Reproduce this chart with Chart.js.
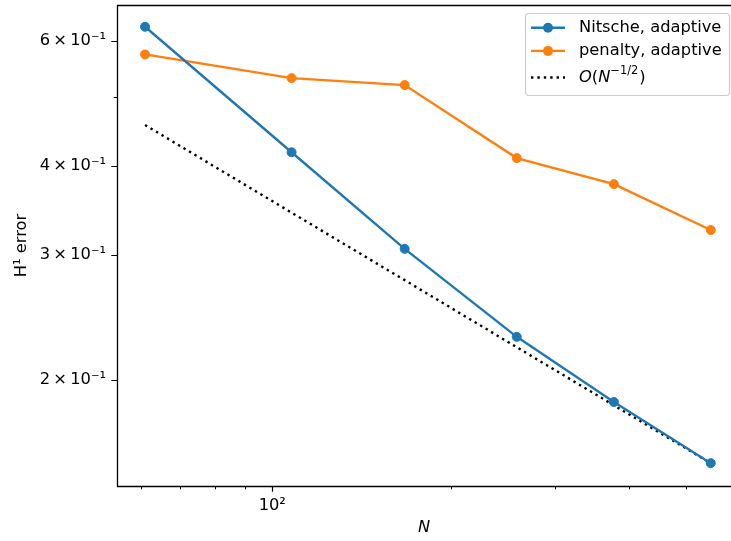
<!DOCTYPE html>
<html>
<head>
<meta charset="utf-8">
<script src="https://cdn.jsdelivr.net/npm/chart.js@4/dist/chart.umd.min.js"></script>
<style>
  html, body { margin: 0; padding: 0; background: #fff; overflow: hidden; }
</style>
</head>
<body>
<canvas id="graph" width="731" height="541"></canvas>
<script>
// values
const nValues = [61.0, 107.8, 167.3, 258.6, 377.2, 549.6];
const nitscheError = [0.6286, 0.4184, 0.3059, 0.2300, 0.1862, 0.1527];
const penaltyError = [0.5746, 0.5322, 0.5203, 0.4106, 0.3774, 0.3252];
const rateLine = [0.4571, 0.3440, 0.2764, 0.2224, 0.1842, 0.1527];

const seriesLabels = ["Nitsche, adaptive", "penalty, adaptive", "O(N^-1/2)"];

const xMajorTicks = [100];
const xMinorTicks = [60, 70, 80, 90, 200, 300, 400, 500];
const xTickLabels = ["10²"];
const yMajorTicks = [0.2, 0.3, 0.4, 0.6];
const yMinorTicks = [0.5];
const yTickLabels = ["2\u2009×\u200910⁻¹", "3\u2009×\u200910⁻¹", "4\u2009×\u200910⁻¹", "6\u2009×\u200910⁻¹"];

const FONT = "'DejaVu Sans', sans-serif";
const blue = "#1f77b4";
const orange = "#ff7f0e";

function toPoints(ys) {
    return nValues.map((x, i) => ({x: x, y: ys[i]}));
}

function noPad(s) {
    s.paddingTop = 0;
    s.paddingBottom = 0;
    s.paddingLeft = 0;
    s.paddingRight = 0;
}

// matplotlib style spines and ticks
const frameTicks = {
    id: "frameTicks",
    afterDraw(chart) {
        const {ctx, chartArea: a, scales} = chart;
        ctx.save();
        ctx.strokeStyle = "#000";
        ctx.lineWidth = 1.3;
        ctx.beginPath();
        ctx.moveTo(a.left + 0.5, a.bottom + 0.5);
        ctx.lineTo(a.left + 0.5, a.top + 0.5);
        ctx.lineTo(a.right + 2, a.top + 0.5);
        ctx.moveTo(a.left, a.bottom + 0.5);
        ctx.lineTo(a.right + 2, a.bottom + 0.5);
        ctx.stroke();

        const tick = (vals, len, w, horiz) => {
            ctx.lineWidth = w;
            ctx.beginPath();
            vals.forEach(v => {
                if (horiz) {
                    const px = Math.round(scales.x.getPixelForValue(v)) + 0.5;
                    ctx.moveTo(px, a.bottom);
                    ctx.lineTo(px, a.bottom + len);
                } else {
                    const py = Math.round(scales.y.getPixelForValue(v)) + 0.5;
                    ctx.moveTo(a.left, py);
                    ctx.lineTo(a.left - len, py);
                }
            });
            ctx.stroke();
        };
        tick(xMajorTicks, 5.7, 1.2, true);
        tick(xMinorTicks, 3.3, 1, true);
        tick(yMajorTicks, 5.7, 1.2, false);
        tick(yMinorTicks, 3.3, 1, false);
        ctx.restore();
    }
};

// legend drawn like matplotlib: line + marker handle
const mplLegend = {
    id: "mplLegend",
    afterDraw(chart) {
        const ctx = chart.ctx;
        const box = {x: 525.5, y: 13.5, w: 204, h: 82, r: 3.5};
        ctx.save();
        ctx.beginPath();
        ctx.roundRect(box.x, box.y, box.w, box.h, box.r);
        ctx.fillStyle = "rgba(255,255,255,0.8)";
        ctx.fill();
        ctx.strokeStyle = "#cccccc";
        ctx.lineWidth = 1.2;
        ctx.stroke();

        const rows = [27.7, 50.9, 77.5];
        const x0 = 531, x1 = 565, mx = 548, tx = 579;
        chart.data.datasets.forEach((ds, i) => {
            const y = rows[i];
            ctx.strokeStyle = ds.borderColor;
            ctx.lineWidth = ds.borderWidth;
            ctx.setLineDash(ds.borderDash || []);
            ctx.beginPath();
            ctx.moveTo(x0, y);
            ctx.lineTo(x1, y);
            ctx.stroke();
            ctx.setLineDash([]);
            if (ds.pointRadius > 0) {
                ctx.beginPath();
                ctx.arc(mx, y, ds.pointRadius + 0.5, 0, Math.PI * 2);
                ctx.fillStyle = ds.borderColor;
                ctx.fill();
            }
            ctx.fillStyle = "#000";
            ctx.textBaseline = "middle";
            ctx.textAlign = "left";
            if (i < 2) {
                ctx.font = "16.3px " + FONT;
                ctx.fillText(ds.label, tx, y);
            } else {
                // O(N^{-1/2})
                let x = tx;
                const part = (t, style, size, dy) => {
                    ctx.font = style + " " + size + "px " + FONT;
                    ctx.fillText(t, x, y + dy);
                    x += ctx.measureText(t).width;
                };
                part("O", "italic", 16.3, 0);
                part("(", "normal", 16.3, 0);
                part("N", "italic", 16.3, 0);
                part("−1/2", "normal", 11.4, -6);
                x += 1;
                part(")", "normal", 16.3, 0);
            }
        });
        ctx.restore();
    }
};

new Chart(document.getElementById("graph"), {
    type: "line",
    data: {
        datasets: [{
            label: seriesLabels[0],
            data: toPoints(nitscheError),
            borderColor: blue,
            backgroundColor: blue,
            pointBackgroundColor: blue,
            pointBorderColor: blue,
            borderWidth: 2.4,
            pointRadius: 4.5,
            pointBorderWidth: 1,
            order: 1
        }, {
            label: seriesLabels[1],
            data: toPoints(penaltyError),
            borderColor: orange,
            backgroundColor: orange,
            pointBackgroundColor: orange,
            pointBorderColor: orange,
            borderWidth: 2.4,
            pointRadius: 4.5,
            pointBorderWidth: 1,
            order: 3
        }, {
            label: seriesLabels[2],
            data: toPoints(rateLine),
            borderColor: "#000",
            borderWidth: 2.4,
            borderDash: [2.4, 4],
            pointRadius: 0,
            order: 2
        }]
    },
    options: {
        responsive: false,
        animation: false,
        events: [],
        layout: {autoPadding: false, padding: {top: 5, right: 0, left: 0, bottom: 0}},
        plugins: {legend: {display: false}, tooltip: {enabled: false}},
        scales: {
            x: {
                type: "logarithmic",
                position: "bottom",
                min: 54.7,
                max: 594.6,
                afterBuildTicks: s => { s.ticks = xMinorTicks.concat(xMajorTicks).sort((a, b) => a - b).map(v => ({value: v})); },
                afterFit: s => { s.height = 55; noPad(s); },
                grid: {display: false, drawTicks: false},
                border: {display: false},
                ticks: {
                    autoSkip: false,
                    maxRotation: 0,
                    padding: 10,
                    color: "#000",
                    font: {family: FONT, size: 16.3},
                    callback: v => {
                        const i = xMajorTicks.indexOf(v);
                        return i >= 0 ? xTickLabels[i] : "";
                    }
                },
                title: {
                    display: true,
                    text: "N",
                    color: "#000",
                    font: {family: FONT, size: 16.3, style: "italic"},
                    padding: {top: 0, bottom: 3}
                }
            },
            y: {
                type: "logarithmic",
                position: "left",
                min: 0.1418,
                max: 0.6745,
                afterBuildTicks: s => { s.ticks = yMinorTicks.concat(yMajorTicks).sort((a, b) => a - b).map(v => ({value: v})); },
                afterFit: s => { s.width = 117; noPad(s); },
                grid: {display: false, drawTicks: false},
                border: {display: false},
                ticks: {
                    autoSkip: false,
                    padding: 11,
                    color: "#000",
                    font: {family: FONT, size: 16.3},
                    callback: v => {
                        const i = yMajorTicks.indexOf(v);
                        return i >= 0 ? yTickLabels[i] : "";
                    }
                },
                title: {
                    display: true,
                    text: "H¹ error",
                    color: "#000",
                    font: {family: FONT, size: 16.3},
                    padding: {top: 12.4, bottom: 0}
                }
            }
        }
    },
    plugins: [frameTicks, mplLegend]
});
</script>
</body>
</html>
